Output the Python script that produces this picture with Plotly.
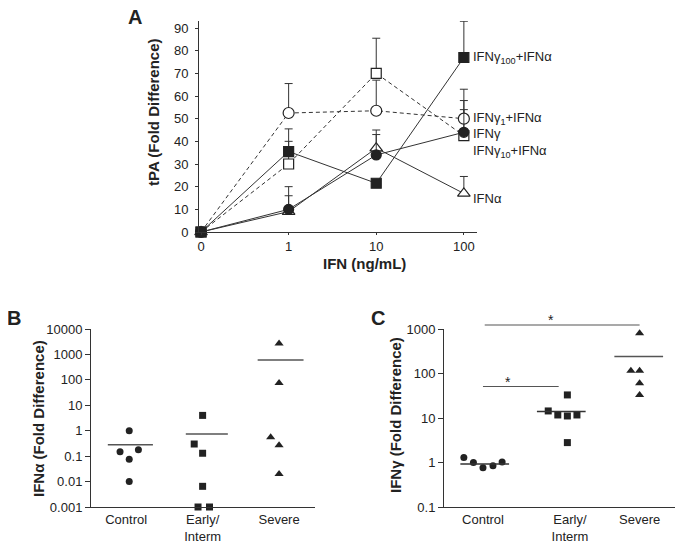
import math
import plotly.graph_objects as go

W, H = 683, 546
OFF = 8  # page body margin offsets the figure by this many pixels
FONT = "Liberation Sans, Arial, sans-serif"
INK = "#222222"

# ---------------- Panel A data ----------------
doses = ["0", "1", "10", "100"]
g100a = [0, 35.5, 21.5, 77]
g100a_err = [0, 10, 0, 16]
g1a = [0, 52.5, 53.5, 50]
g1a_err = [0, 13, 13.5, 13]
g_only = [0, 10, 34, 44]
g_only_err = [0, 10, 9, 10]
g10a = [0, 30, 70, 42.5]
g10a_err = [0, 10, 15.5, 15.5]
a_only = [0, 9, 37, 17]
a_only_err = [0, 7, 8, 7.5]

# ---------------- Panel B data ----------------
groups = ["Control", "Early/<br>Interm", "Severe"]
b_control = [1.0, 0.15, 0.18, 0.075, 0.01]
b_control_jit = [0.04, -0.08, 0.16, 0.04, 0.04]
b_early = [4, 0.3, 0.13, 0.0065, 0.001, 0.001]
b_early_jit = [0, -0.11, 0, 0, -0.06, 0.09]
b_severe = [2700, 75, 0.55, 0.27, 0.02]
b_severe_jit = [0, 0, -0.11, 0, 0]
b_means = [0.28, 0.75, 600]

# ---------------- Panel C data ----------------
c_pos = [0, 1, 1.8]
c_control = [1.3, 1.0, 0.76, 0.84, 1.03]
c_control_jit = [-0.22, -0.11, 0, 0.115, 0.22]
c_early = [14.4, 11.7, 11.1, 11.7, 33, 2.8]
c_early_jit = [-0.25, -0.14, -0.03, 0.08, -0.03, -0.03]
c_severe = [800, 115, 115, 60, 33]
c_severe_jit = [0, -0.1, 0, 0, 0]
c_means = [0.93, 14, 240]
sig_y = [51, 1230]

fig = go.Figure()
xa = list(range(len(doses)))

def series(y, err, filled, symbol, dash, size=10):
    fig.add_trace(go.Scatter(
        x=xa, y=y, mode="lines+markers", xaxis="x", yaxis="y",
        line=dict(color="#333333", width=1, dash=dash),
        marker=dict(symbol=symbol, size=size,
                    color=INK if filled else "white",
                    line=dict(color=INK, width=1.2)),
        error_y=dict(type="data", symmetric=False, array=err,
                     arrayminus=[0] * len(err), thickness=1, width=4,
                     color="#333333"),
        cliponaxis=False, showlegend=False))

DASH = "4px,3px"
series(g10a, g10a_err, False, "square", DASH)
series(g1a, g1a_err, False, "circle", DASH, 11)
series(a_only, a_only_err, False, "triangle-up", "solid", 11)
series(g100a, g100a_err, True, "square", "solid")
series(g_only, g_only_err, True, "circle", "solid")

# ---------------- Panels B and C ----------------
def scatter_grp(xax, yax, vals, jit, pos, symbol, size):
    fig.add_trace(go.Scatter(
        x=[pos + j for j in jit], y=vals, mode="markers", xaxis=xax, yaxis=yax,
        marker=dict(symbol=symbol, size=size, color=INK),
        cliponaxis=False, showlegend=False))

def mean_line(xax, yax, pos, m, lo, hi, color="#555555"):
    fig.add_trace(go.Scatter(
        x=[pos + lo, pos + hi], y=[m, m], mode="lines", xaxis=xax, yaxis=yax,
        line=dict(color=color, width=1.5), cliponaxis=False, showlegend=False))

scatter_grp("x2", "y2", b_control, b_control_jit, 0, "circle", 7)
scatter_grp("x2", "y2", b_early, b_early_jit, 1, "square", 7)
scatter_grp("x2", "y2", b_severe, b_severe_jit, 2, "triangle-up", 8)
mean_line("x2", "y2", 0, b_means[0], -0.24, 0.35)
mean_line("x2", "y2", 1, b_means[1], -0.22, 0.33)
mean_line("x2", "y2", 2, b_means[2], -0.28, 0.32)

scatter_grp("x3", "y3", c_control, c_control_jit, c_pos[0], "circle", 7)
scatter_grp("x3", "y3", c_early, c_early_jit, c_pos[1], "square", 7)
scatter_grp("x3", "y3", c_severe, c_severe_jit, c_pos[2], "triangle-up", 8)
mean_line("x3", "y3", c_pos[0], c_means[0], -0.26, 0.30, "#333333")
mean_line("x3", "y3", c_pos[1], c_means[1], -0.38, 0.18, "#333333")
mean_line("x3", "y3", c_pos[2], c_means[2], -0.29, 0.27, "#555555")

def px_x(p):
    return (p - OFF) / W

def px_y(p):
    return 1 - (p - OFF) / H

# C y axis geometry (paper) for mapping log values of brackets
C_Y0, C_Y1 = px_y(507), px_y(329)
C_R = [-1, 3]
def c_paper_y(v):
    return C_Y0 + (math.log10(v) - C_R[0]) / (C_R[1] - C_R[0]) * (C_Y1 - C_Y0)

shapes = []
ann = []
sig_pairs = [(c_pos[0], c_pos[1] - 0.13, 0.33), (c_pos[0] + 0.02, c_pos[2], 0.43)]
for (x0, x1, sf), yv in zip(sig_pairs, sig_y):
    shapes.append(dict(type="line", xref="x3", yref="paper", x0=x0, x1=x1,
                       y0=c_paper_y(yv), y1=c_paper_y(yv),
                       line=dict(color="#555555", width=1.2)))
    ann.append(dict(text="*", x=x0 + (x1 - x0) * sf, y=c_paper_y(yv),
                    xref="x3", yref="paper", showarrow=False,
                    xanchor="center", yanchor="bottom", yshift=-5,
                    font=dict(family=FONT, size=14, color=INK)))

axis_common = dict(showline=True, linecolor="#333333", linewidth=1,
                   ticks="outside", ticklen=5, tickcolor="#333333",
                   showgrid=False, zeroline=False, automargin=False,
                   tickfont=dict(family=FONT, size=13, color=INK))
xcat = dict(axis_common, ticks="")
xa_a = dict(axis_common, ticklen=2)
ya_a = dict(axis_common, ticklen=3, ticklabelstandoff=4)

fig.update_layout(
    width=W, height=H, margin=dict(l=0, r=0, t=0, b=0),
    paper_bgcolor="white", plot_bgcolor="white",
    font=dict(family=FONT, color=INK),
    xaxis=dict(domain=[px_x(199), px_x(477)], anchor="y",
               range=[-0.023, 3.15], tickvals=xa, ticktext=doses, **xa_a),
    yaxis=dict(domain=[px_y(232), px_y(21)], anchor="x",
               range=[0, 93.1], tickvals=list(range(0, 100, 10)), **ya_a),
    xaxis2=dict(domain=[px_x(91), px_x(315)], anchor="y2",
                range=[-0.46, 2.47], tickvals=[0, 1, 2], ticktext=groups,
                **xcat),
    yaxis2=dict(domain=[px_y(507), px_y(329)], anchor="x2", type="log",
                range=[-3, 4],
                tickvals=[0.001, 0.01, 0.1, 1, 10, 100, 1000, 10000],
                ticktext=["0.001", "0.01", "0.1", "1", "10", "100", "1000", "10000"],
                **axis_common),
    xaxis3=dict(domain=[px_x(444), px_x(677)], anchor="y3",
                range=[-0.448, 2.23], tickvals=c_pos, ticktext=groups,
                **xcat),
    yaxis3=dict(domain=[C_Y0, C_Y1], anchor="x3", type="log",
                range=C_R, tickvals=[0.1, 1, 10, 100, 1000],
                ticktext=["0.1", "1", "10", "100", "1000"], **axis_common),
)

def label(text, x, y, size=20):
    ann.append(dict(text=f"<b>{text}</b>", x=px_x(x), y=px_y(y), xref="paper",
                    yref="paper", showarrow=False, xanchor="center",
                    yanchor="middle",
                    font=dict(family=FONT, size=size, color=INK)))

label("A", 135, 17)
label("B", 14, 318)
label("C", 378, 318)

def title(text, x, y, angle=0):
    ann.append(dict(text=f"<b>{text}</b>", x=px_x(x), y=px_y(y), xref="paper",
                    yref="paper", showarrow=False, textangle=angle,
                    xanchor="center", yanchor="middle",
                    font=dict(family=FONT, size=15, color=INK)))

title("tPA (Fold Difference)", 153, 112, -90)
title("IFN (ng/mL)", 364, 263)
title("IFNα (Fold Difference)", 38, 419, -90)
title("IFNγ (Fold Difference)", 395, 415, -90)

series_labels = [
    ("IFNγ<sub>100</sub>+IFNα", 77),
    ("IFNγ<sub>1</sub>+IFNα", 50),
    ("IFNγ", 43.5),
    ("IFNγ<sub>10</sub>+IFNα", 35.5),
    ("IFNα", 15),
]
for txt, yv in series_labels:
    ann.append(dict(text=txt, x=3, y=yv, xref="x", yref="y", xanchor="left",
                    xshift=7, showarrow=False,
                    font=dict(family=FONT, size=13, color=INK)))

fig.update_layout(annotations=ann, shapes=shapes)
fig.write_html("out.html")
